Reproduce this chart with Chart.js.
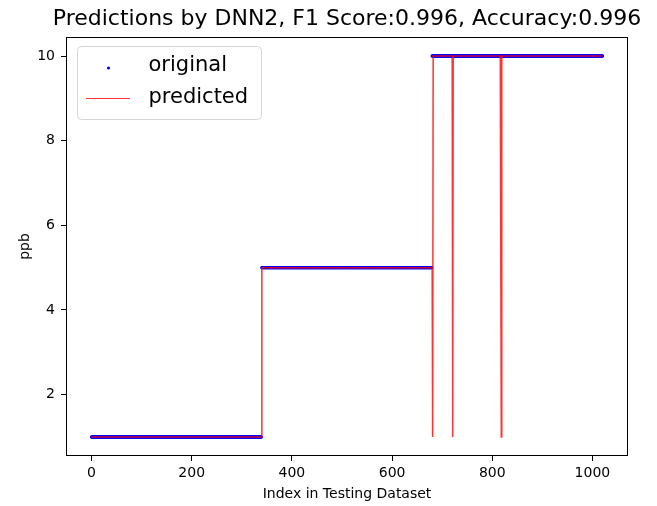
<!DOCTYPE html>
<html>
<head>
<meta charset="utf-8">
<script src="https://cdn.jsdelivr.net/npm/chart.js@4.4.1/dist/chart.umd.min.js"></script>
<style>
  html, body { margin: 0; padding: 0; background: #fff; }
  #wrap { width: 657px; height: 506px; }
</style>
</head>
<body>
<div id="wrap"><canvas id="c" width="657" height="506"></canvas></div>
<script>
// Ground-truth concentration runs over the test set (inclusive index ranges)
const runStarts = [0, 340, 680];
const runEnds   = [339, 679, 1020];
const runValues = [1, 5, 10];

// Samples where the network's prediction differs from the label
const missIndices = [680, 681, 721, 818];
const missValues  = [5, 1, 1, 1];

// Axis ticks
const xTickValues = [0, 200, 400, 600, 800, 1000];
const yTickValues = [2, 4, 6, 8, 10];

const titleText = 'Predictions by DNN2, F1 Score:0.996, Accuracy:0.996';
const seriesNames = ['original', 'predicted'];

// Expand the runs into per-sample points
const originalPts = [];
runStarts.forEach((s, k) => {
  for (let i = s; i <= runEnds[k]; i++) originalPts.push({ x: i, y: runValues[k] });
});
const predictedPts = originalPts.map(p => ({ x: p.x, y: p.y }));
missIndices.forEach((idx, k) => { predictedPts[idx].y = missValues[k]; });

const FONT = 'DejaVu Sans, Liberation Sans, sans-serif';
const BLUE = '#0000ff';
const RED = 'rgba(255,0,0,0.8)';

// Axes frame on all four sides, plus the title centred over the axes
const framePlugin = {
  id: 'frame',
  afterDatasetsDraw(chart) {
    const { ctx, chartArea: a } = chart;
    ctx.save();
    ctx.strokeStyle = '#000';
    ctx.lineWidth = 1;
    ctx.strokeRect(Math.round(a.left) + 0.5, Math.round(a.top) + 0.5,
                   Math.round(a.right - a.left) - 1, Math.round(a.bottom - a.top) - 1);
    ctx.fillStyle = '#000';
    ctx.font = '22px ' + FONT;
    ctx.textAlign = 'center';
    ctx.textBaseline = 'middle';
    ctx.fillText(titleText, (a.left + a.right) / 2, 19);
    ctx.restore();
  }
};

// Legend box in the upper-left corner of the plot
const legendPlugin = {
  id: 'boxLegend',
  afterDraw(chart) {
    const { ctx } = chart;
    const ds = chart.data.datasets;
    const x0 = 77.5, y0 = 46.5, w = 184, h = 73, r = 4;
    ctx.save();
    ctx.beginPath();
    ctx.moveTo(x0 + r, y0);
    ctx.arcTo(x0 + w, y0, x0 + w, y0 + h, r);
    ctx.arcTo(x0 + w, y0 + h, x0, y0 + h, r);
    ctx.arcTo(x0, y0 + h, x0, y0, r);
    ctx.arcTo(x0, y0, x0 + w, y0, r);
    ctx.closePath();
    ctx.fillStyle = 'rgba(255,255,255,0.8)';
    ctx.fill();
    ctx.strokeStyle = '#d6d6d6';
    ctx.lineWidth = 1;
    ctx.stroke();

    // marker for the scatter series
    ctx.fillStyle = ds[0].backgroundColor;
    ctx.beginPath();
    ctx.arc(108.5, 68, 1.6, 0, Math.PI * 2);
    ctx.fill();
    // line sample for the predicted series
    ctx.strokeStyle = ds[1].borderColor;
    ctx.lineWidth = 1.2;
    ctx.beginPath();
    ctx.moveTo(86, 98.5);
    ctx.lineTo(130, 98.5);
    ctx.stroke();

    ctx.fillStyle = '#000';
    ctx.font = '21px ' + FONT;
    ctx.textBaseline = 'middle';
    ctx.textAlign = 'left';
    ctx.fillText(ds[0].label, 148.5, 66);
    ctx.fillText(ds[1].label, 148.5, 98);
    ctx.restore();
  }
};

new Chart(document.getElementById('c'), {
  type: 'scatter',
  data: {
    datasets: [
      {
        label: seriesNames[0],
        data: originalPts,
        backgroundColor: BLUE,
        borderWidth: 0,
        pointRadius: 1.7,
        pointHoverRadius: 1.7,
        order: 2
      },
      {
        label: seriesNames[1],
        data: predictedPts,
        showLine: true,
        borderColor: RED,
        backgroundColor: RED,
        borderWidth: 1.5,
        pointRadius: 0,
        pointHoverRadius: 0,
        tension: 0,
        order: 1
      }
    ]
  },
  options: {
    responsive: false,
    animation: false,
    events: [],
    layout: { padding: { left: 0, right: 29, top: 37, bottom: 0 } },
    plugins: {
      legend: { display: false },
      tooltip: { enabled: false },
      title: { display: false }
    },
    scales: {
      x: {
        type: 'linear',
        min: -51,
        max: 1071,
        afterBuildTicks: axis => { axis.ticks = xTickValues.map(v => ({ value: v })); },
        afterFit: scale => { scale.height = 50; },
        grid: { drawOnChartArea: false, drawTicks: true, tickLength: 5, color: '#000', tickWidth: 1 },
        border: { display: false },
        ticks: {
          color: '#000',
          font: { family: FONT, size: 14 },
          padding: 4,
          maxRotation: 0,
          autoSkip: false,
          callback: v => String(v)
        },
        title: {
          display: true,
          text: 'Index in Testing Dataset',
          color: '#000',
          font: { family: FONT, size: 14 },
          padding: { top: 0, bottom: 3 }
        }
      },
      y: {
        type: 'linear',
        min: 0.55,
        max: 10.45,
        afterBuildTicks: axis => { axis.ticks = yTickValues.map(v => ({ value: v })); },
        afterFit: scale => { scale.width = 66; },
        grid: { drawOnChartArea: false, drawTicks: true, tickLength: 5, color: '#000', tickWidth: 1 },
        border: { display: false },
        ticks: {
          color: '#000',
          font: { family: FONT, size: 14 },
          padding: 6,
          autoSkip: false,
          callback: v => String(v)
        },
        title: {
          display: true,
          text: 'ppb',
          color: '#000',
          font: { family: FONT, size: 14 },
          padding: { top: 16.6, bottom: 0 }
        }
      }
    }
  },
  plugins: [framePlugin, legendPlugin]
});
</script>
</body>
</html>
